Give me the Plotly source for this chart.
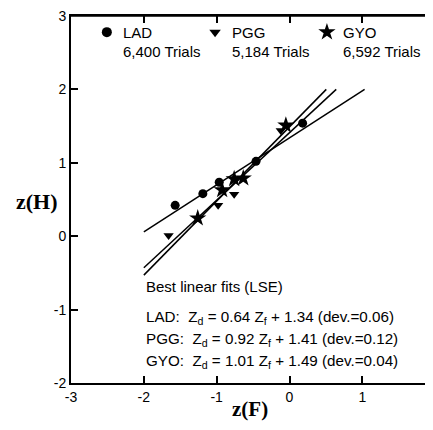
import plotly.graph_objects as go

# ---- data ----
lad_x = [-1.57, -1.19, -0.965, -0.46, 0.18]
lad_y = [0.42, 0.58, 0.735, 1.02, 1.54]
pgg_x = [-1.66, -0.98, -0.76, -0.12]
pgg_y = [0.01, 0.42, 0.57, 1.44]
gyo_x = [-1.26, -0.925, -0.76, -0.635, -0.05]
gyo_y = [0.245, 0.63, 0.78, 0.79, 1.51]

series_names = ["LAD", "PGG", "GYO"]
trial_labels = ["6,400 Trials", "5,184 Trials", "6,592 Trials"]
fit_slopes = [0.64, 0.92, 1.01]
fit_intercepts = [1.34, 1.41, 1.49]
fit_devs = ["0.06", "0.12", "0.04"]
fit_x_start = -2.0
fit_y_end = 2.0

x_ticks = [-3, -2, -1, 0, 1]
y_ticks = [-2, -1, 0, 1, 2, 3]

symbols = ["circle", "triangle-down", "star"]
sizes = [9, 9, 13]

fig = go.Figure()

# fit lines
for m, b in zip(fit_slopes, fit_intercepts):
    x_end = (fit_y_end - b) / m
    fig.add_trace(go.Scatter(x=[fit_x_start, x_end], y=[fit_x_start * m + b, fit_y_end],
                             mode="lines", line=dict(color="black", width=1.5),
                             showlegend=False, hoverinfo="skip"))

for xs, ys, sym, sz in zip([lad_x, pgg_x, gyo_x], [lad_y, pgg_y, gyo_y], symbols, sizes):
    fig.add_trace(go.Scatter(x=xs, y=ys, mode="markers",
                             marker=dict(symbol=sym, size=sz, color="black",
                                         line=dict(width=0)),
                             showlegend=False))

# legend keys on a hidden overlay axis (paper-like 0..1)
key_x = [0.099, 0.398, 0.707]
key_y = [0.956, 0.956, 0.956]
for kx, ky, sym, sz in zip(key_x, key_y, symbols, [10, 10, 13]):
    fig.add_trace(go.Scatter(x=[kx], y=[ky], xaxis="x2", yaxis="y3", mode="markers",
                             marker=dict(symbol=sym, size=sz, color="black", line=dict(width=0)),
                             showlegend=False, cliponaxis=False, hoverinfo="skip"))

FONT = "Liberation Sans, Arial"
ann = []
txt_x = [0.137, 0.439, 0.746]
for tx, name, trials in zip(txt_x, series_names, trial_labels):
    ann.append(dict(x=tx, y=0.956, xref="paper", yref="paper", text=name,
                    showarrow=False, xanchor="left", yanchor="middle",
                    font=dict(family=FONT, size=15, color="black")))
    ann.append(dict(x=tx, y=0.902, xref="paper", yref="paper", text=trials,
                    showarrow=False, xanchor="left", yanchor="middle",
                    font=dict(family=FONT, size=15, color="black")))

ann.append(dict(x=0.2017, y=0.2616, xref="paper", yref="paper",
                text="Best linear fits (LSE)", showarrow=False,
                xanchor="left", yanchor="middle",
                font=dict(family=FONT, size=15, color="black")))
eq_y = [0.179, 0.118, 0.058]
for ey, name, m, b, d in zip(eq_y, series_names, fit_slopes, fit_intercepts, fit_devs):
    ann.append(dict(x=0.2017, y=ey, xref="paper", yref="paper",
                    text=f"{name}:&nbsp; Z<sub>d</sub> = {m:.2f} Z<sub>f</sub> + {b:.2f} (dev.={d})",
                    showarrow=False, xanchor="left", yanchor="middle",
                    font=dict(family=FONT, size=15.2, color="black")))

# axis titles
ann.append(dict(x=(36.5 - 71) / 362, y=(383 - 202) / 367, xref="paper", yref="paper",
                text="<b>z(H)</b>", showarrow=False, xanchor="center", yanchor="middle",
                font=dict(family="Liberation Serif, Times New Roman", size=22, color="black")))
ann.append(dict(x=(250 - 71) / 362, y=(383 - 409) / 367, xref="paper", yref="paper",
                text="<b>z(F)</b>", showarrow=False, xanchor="center", yanchor="middle",
                font=dict(family="Liberation Serif, Times New Roman", size=21, color="black")))

tickfont = dict(family=FONT, size=14, color="black")
# page has an 8px body margin: figure sized so the plot area lands where the reference has it
fig.update_layout(
    width=425, height=414,
    margin=dict(l=63, r=0, t=8, b=39),
    paper_bgcolor="white", plot_bgcolor="white",
    showlegend=False,
    annotations=ann,
    shapes=[dict(type="line", xref="paper", yref="paper", x0=0, x1=1, y0=1, y1=1,
                 line=dict(color="black", width=1.5))],
    xaxis=dict(range=[-3, 1.97], tickvals=x_ticks, ticktext=[str(v) for v in x_ticks],
               ticks="inside", ticklen=7, tickwidth=1.5,
               tickcolor="black", showline=True, linewidth=2, linecolor="black",
               mirror="ticks", showgrid=False, zeroline=False, tickfont=tickfont,
               ticklabeloverflow="allow"),
    yaxis=dict(range=[-2, 3], tickvals=y_ticks, ticktext=[str(v) for v in y_ticks],
               ticks="inside", ticklen=7, tickwidth=1.5,
               tickcolor="black", showline=True, linewidth=2, linecolor="black",
               mirror=False, showgrid=False, zeroline=False, tickfont=tickfont,
               ticklabeloverflow="allow"),
    yaxis2=dict(range=[-2, 3], overlaying="y", side="right", tickvals=[-1, 0, 1, 2],
                ticks="inside", ticklen=7, tickwidth=1.5, tickcolor="black",
                showticklabels=False, showline=False, showgrid=False, zeroline=False),
    xaxis2=dict(range=[0, 1], overlaying="x", visible=False, fixedrange=True),
    yaxis3=dict(range=[0, 1], overlaying="y", visible=False, fixedrange=True),
)
fig.add_trace(go.Scatter(x=[None], y=[None], yaxis="y2", showlegend=False))

fig.write_html("out.html")
